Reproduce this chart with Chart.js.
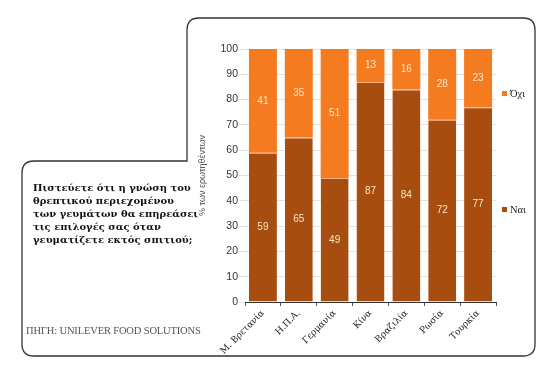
<!DOCTYPE html>
<html>
<head>
<meta charset="utf-8">
<script src="https://cdn.jsdelivr.net/npm/chart.js@4/dist/chart.umd.min.js"></script>
<style>
  html,body{margin:0;padding:0;background:#fff;}
  #wrap{position:relative;width:550px;height:378px;overflow:hidden;}
  #frame{position:absolute;left:0;top:0;}
  #c{position:absolute;left:0;top:0;}
  .q{position:absolute;left:33px;top:181px;font-family:"DejaVu Serif","Liberation Serif",serif;font-weight:bold;font-size:10px;line-height:13px;color:#111;white-space:nowrap;}
  .src{position:absolute;left:26px;top:325px;font-family:"Liberation Serif",serif;font-size:10.5px;color:#555;white-space:nowrap;letter-spacing:-0.15px;}
  .lg{position:absolute;font-family:"Liberation Serif",serif;font-size:10.5px;color:#222;white-space:nowrap;}
  .lg i{display:inline-block;width:5px;height:5px;margin-right:3px;vertical-align:middle;position:relative;top:-1px;}
</style>
</head>
<body>
<div id="wrap">
  <svg id="frame" width="550" height="378">
    <path d="M187,161 L187,30 Q187,18 199,18 L523,18 Q535,18 535,30 L535,344 Q535,356 523,356 L34,356 Q22,356 22,344 L22,173 Q22,161 34,161 Z" fill="none" stroke="#333" stroke-width="1.3"/>
  </svg>
  <canvas id="c" width="550" height="378"></canvas>
  <div class="q">Πιστεύετε ότι η γνώση του<br>θρεπτικού περιεχομένου<br>των γευμάτων θα επηρεάσει<br>τις επιλογές σας όταν<br>γευματίζετε εκτός σπιτιού;</div>
  <div class="src">ΠΗΓΗ: UNILEVER FOOD SOLUTIONS</div>
  <div class="lg" style="left:502px;top:88px;"><i style="background:#F47B20"></i>Όχι</div>
  <div class="lg" style="left:502px;top:204px;"><i style="background:#A84D10"></i>Ναι</div>
</div>
<script>
const categories = ["Μ. Βρετανία","Η.Π.Α.","Γερμανία","Κίνα","Βραζιλία","Ρωσία","Τουρκία"];
const yesValues = [59,65,49,87,84,72,77];
const noValues  = [41,35,51,13,16,28,23];
const seriesNames = ["Ναι","Όχι"];
const yTicks = [0,10,20,30,40,50,60,70,80,90,100];

const labelPlugin = {
  id:'barLabels',
  afterDatasetsDraw(chart){
    const ctx = chart.ctx;
    ctx.save();
    ctx.font = '10px "Liberation Sans", Arial, sans-serif';
    ctx.fillStyle = '#FBE6C4';
    ctx.textAlign = 'center';
    ctx.textBaseline = 'middle';
    chart.data.datasets.forEach((ds,di)=>{
      const meta = chart.getDatasetMeta(di);
      meta.data.forEach((bar,i)=>{
        const c = bar.getCenterPoint();
        ctx.fillText(String(ds.data[i]), c.x, c.y);
      });
    });
    ctx.restore();
  }
};

new Chart(document.getElementById('c'),{
  type:'bar',
  data:{
    labels:categories,
    datasets:[
      {label:seriesNames[0],data:yesValues,backgroundColor:'#A84D10',borderColor:'#F9B27A',borderWidth:{top:1,left:0,right:0,bottom:0},borderSkipped:false,barPercentage:0.78,categoryPercentage:1},
      {label:seriesNames[1],data:noValues,backgroundColor:'#F47B20',borderWidth:0,barPercentage:0.78,categoryPercentage:1}
    ]
  },
  options:{
    responsive:false,
    animation:false,
    devicePixelRatio:1,
    layout:{padding:{left:197,top:49,right:54,bottom:0}},
    plugins:{legend:{display:false},tooltip:{enabled:false}},
    scales:{
      x:{
        stacked:true,
        afterFit(s){ s.height = 76; },
        grid:{offset:true,drawOnChartArea:false,color:'#4a5666',tickLength:4,lineWidth:1},
        border:{display:true,color:'#333',width:1},
        ticks:{maxRotation:45,minRotation:45,color:'#222',padding:2,font:{family:'"DejaVu Serif","Liberation Serif",serif',size:9}}
      },
      y:{
        stacked:true,
        min:0,max:100,
        afterFit(s){ s.width = 48; },
        afterBuildTicks(s){ s.ticks = yTicks.map(v=>({value:v})); },
        grid:{color:'#e2e2e2',tickLength:6,lineWidth:1},
        border:{display:false},
        ticks:{color:'#333',padding:1,font:{family:'"Liberation Sans", Arial, sans-serif',size:10.5}},
        title:{display:true,text:'% των ερωτηθέντων',color:'#555',padding:{top:0,bottom:2},font:{family:'"Liberation Sans", Arial, sans-serif',size:9}}
      }
    }
  },
  plugins:[labelPlugin]
});
</script>
</body>
</html>
